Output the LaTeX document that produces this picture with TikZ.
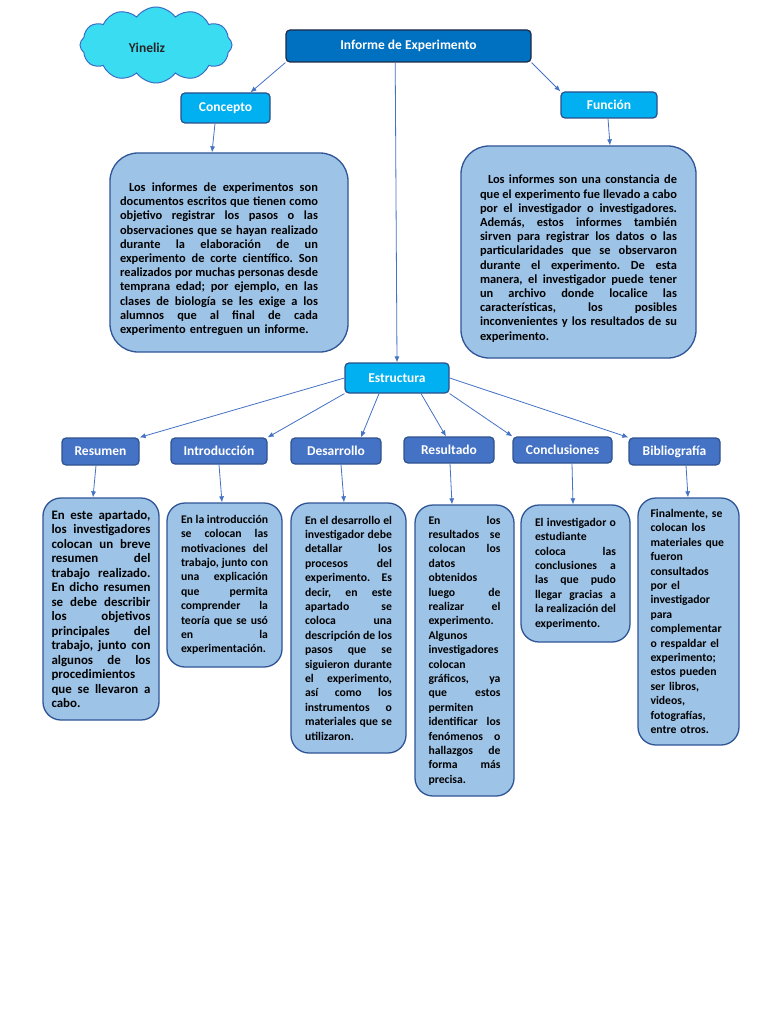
\documentclass[tikz,border=0pt]{standalone}
\usepackage{fontspec}
\setmainfont{Carlito}
\usetikzlibrary{shapes.symbols,calc,arrows.meta}
\definecolor{mainblue}{HTML}{0070C0}
\definecolor{mainframe}{HTML}{1C2A48}
\definecolor{cyanfill}{HTML}{00B0F0}
\definecolor{cyanframe}{HTML}{2A4E8A}
\definecolor{subfill}{HTML}{4472C4}
\definecolor{subframe}{HTML}{2F528F}
\definecolor{txtfill}{HTML}{9DC3E6}
\definecolor{txtframe}{HTML}{2F5597}
\definecolor{arrowblue}{HTML}{4472C4}
\definecolor{cloudfill}{HTML}{3ADCF2}
\definecolor{cloudframe}{HTML}{3A6EC4}
\def\jw{100pt}
\newcommand\jl[1]{\makebox[\jw][s]{\spaceskip=0.226em plus 1fil\relax #1}\\}
\begin{document}
\frenchspacing
\begin{tikzpicture}[x=1pt,y=-1pt,
  arr/.style={draw=arrowblue, line width=0.8pt, -{Latex[length=6pt,width=5pt]}},
  head/.style={text=white, inner sep=0pt, rounded corners=4pt, line width=1.2pt,
     font=\bfseries\fontsize{13.5}{16}\selectfont},
  mainbox/.style={head, draw=mainframe, fill=mainblue},
  cyanbox/.style={head, draw=cyanframe, fill=cyanfill},
  subbox/.style={head, draw=subframe, fill=subfill},
  txtbox/.style={draw=txtframe, fill=txtfill, line width=1.3pt, inner sep=0pt,
     align=left, text=black, rounded corners=18pt,
     font=\bfseries\frenchspacing\fontsize{11.7}{14.4}\selectfont},
  bigtxt/.style={txtbox, rounded corners=28pt, font=\bfseries\frenchspacing\fontsize{12.4}{14.2}\selectfont}
]
\fill[white] (0,0) rectangle (768,1024);
\path[use as bounding box] (0,0) rectangle (768,1024);

% cloud
\node[cloud, cloud puffs=12, cloud puff arc=110, cloud ignores aspect,
  minimum width=152pt, minimum height=76pt, draw=cloudframe, fill=cloudfill,
  line width=1pt] (cloud) at (156,45) {};
\node[font=\bfseries\fontsize{13.5}{16}\selectfont, text=black!85] (name) at (147,48) {Yineliz};

% headings
\node[mainbox, minimum width=245pt, minimum height=32pt] (inf) at (408.5,46) {Informe de Experimento};
\node[cyanbox, minimum width=89pt, minimum height=30pt] (con) at (225.5,108) {Concepto};
\node[cyanbox, minimum width=96pt, minimum height=26pt] (fun) at (609,105) {Función};
\node[cyanbox, minimum width=104pt, minimum height=30pt] (est) at (397,378) {Estructura};

\node[subbox, minimum width=77pt, minimum height=27pt] (res) at (100.5,451.5) {Resumen};
\node[subbox, minimum width=96pt, minimum height=26pt] (int) at (219,451) {Introducción};
\node[subbox, minimum width=90pt, minimum height=26pt] (des) at (336,451) {Desarrollo};
\node[subbox, minimum width=90pt, minimum height=26pt] (rel) at (449,450) {Resultado};
\node[subbox, minimum width=99pt, minimum height=26pt] (cnc) at (562.5,450) {Conclusiones};
\node[subbox, minimum width=91pt, minimum height=27pt] (bib) at (674.5,451.5) {Bibliografía};

% big text boxes
\node[bigtxt, minimum width=238pt, minimum height=199pt, text width=218pt] (cbox) at (229,252.5) {%
\def\jw{198pt}%
\jl{\rule{0pt}{22pt}\hspace*{9pt}Los informes de experimentos son}
\jl{documentos escritos que tienen como}
\jl{objetivo registrar los pasos o las}
\jl{observaciones que se hayan realizado}
\jl{durante la elaboración de un}
\jl{experimento de corte científico. Son}
\jl{realizados por muchas personas desde}
\jl{temprana edad; por ejemplo, en las}
\jl{clases de biología se les exige a los}
\jl{alumnos que al final de cada}
experimento entreguen un informe.};

\node[bigtxt, minimum width=235pt, minimum height=212pt, text width=197pt] (fbox) at (578.5,252) {%
\def\jw{197pt}%
\jl{\rule{0pt}{22pt}\hspace*{8pt}Los informes son una constancia de}
\jl{que el experimento fue llevado a cabo}
\jl{por el investigador o investigadores.}
\jl{Además, estos informes también}
\jl{sirven para registrar los datos o las}
\jl{particularidades que se observaron}
\jl{durante el experimento. De esta}
\jl{manera, el investigador puede tener}
\jl{un archivo donde localice las}
\jl{características, los posibles}
\jl{inconvenientes y los resultados de su}
experimento.};

% small text boxes
\node[txtbox, minimum width=116pt, minimum height=222pt, text width=99pt,
  font=\bfseries\frenchspacing\fontsize{12.9}{14.5}\selectfont] (resb) at (101,609) {%
\def\jw{99pt}%
\jl{En este apartado,}
\jl{los investigadores}
\jl{colocan un breve}
\jl{resumen del}
\jl{trabajo realizado.}
\jl{En dicho resumen}
\jl{se debe describir}
\jl{los objetivos}
\jl{principales del}
\jl{trabajo, junto con}
\jl{algunos de los}
procedimientos\\
\jl{que se llevaron a}
cabo.};

\node[txtbox, minimum width=115pt, minimum height=164pt, text width=87pt] (intb) at (224.5,585) {%
\def\jw{87pt}%
\jl{En la introducción}
\jl{se colocan las}
\jl{motivaciones del}
\jl{trabajo, junto con}
\jl{una explicación}
\jl{que permita}
\jl{comprender la}
\jl{teoría que se usó}
\jl{en la}
experimentación.};

\node[txtbox, minimum width=115pt, minimum height=250pt, text width=87pt] (desb) at (348.5,628) {%
\def\jw{87pt}%
\jl{En el desarrollo el}
\jl{investigador debe}
\jl{detallar los}
\jl{procesos del}
\jl{experimento. Es}
\jl{decir, en este}
\jl{apartado se}
\jl{coloca una}
\jl{descripción de los}
\jl{pasos que se}
\jl{siguieron durante}
\jl{el experimento,}
\jl{así como los}
\jl{instrumentos o}
\jl{materiales que se}
utilizaron.};

\node[txtbox, minimum width=99pt, minimum height=291pt, text width=72pt] (relb) at (464.5,650.5) {%
\def\jw{72pt}%
\jl{En los}
\jl{resultados se}
\jl{colocan los}
datos\\
obtenidos\\
\jl{luego de}
\jl{realizar el}
experimento.\\
Algunos\\
investigadores\\
colocan\\
\jl{gráficos, ya}
\jl{que estos}
permiten\\
\jl{identificar los}
\jl{fenómenos o}
\jl{hallazgos de}
\jl{forma más}
precisa.};

\node[txtbox, minimum width=109pt, minimum height=137pt, text width=81pt] (cncb) at (575.5,573.5) {%
\def\jw{81pt}%
\jl{El investigador o}
estudiante\\
\jl{coloca las}
\jl{conclusiones a}
\jl{las que pudo}
\jl{llegar gracias a}
\jl{la realización del}
experimento.};

\node[txtbox, minimum width=101pt, minimum height=247pt, text width=76pt] (bibb) at (688.5,621.5) {%
Finalmente, se\\
colocan los\\
materiales que\\
fueron\\
consultados\\
por el\\
investigador\\
para\\
complementar\\
o respaldar el\\
experimento;\\
estos pueden\\
ser libros,\\
videos,\\
fotografías,\\
entre otros.};

% connectors
\draw[arr] (inf.south west) -- ([xshift=25pt]con.north);
\draw[arr] (inf.south east) -- (fun.north west);
\draw[arr] ($(inf.south west)!0.446!(inf.south east)$) -- (est.north);
\draw[arr] ([xshift=-10.5pt]con.south) -- ([xshift=-17pt]cbox.north);
\draw[arr] ([xshift=-1pt]fun.south) -- ([xshift=31.5pt]fbox.north);

\draw[arr] (est.west) -- (res.north east);
\draw[arr] (est.south west) -- (int.north east);
\draw[arr] ([xshift=-18pt]est.south) -- ([xshift=25pt]des.north);
\draw[arr] ([xshift=24pt]est.south) -- ([xshift=-3pt]rel.north);
\draw[arr] (est.south east) -- (cnc.north west);
\draw[arr] (est.east) -- (bib.north west);

\draw[arr] ([xshift=-4.5pt]res.south) -- ([xshift=-8pt]resb.north);
\draw[arr] (int.south) -- ([xshift=-2.5pt]intb.north);
\draw[arr] ([xshift=5pt]des.south) -- ([xshift=-4.5pt]desb.north);
\draw[arr] ([xshift=1pt]rel.south) -- ([xshift=-12.5pt]relb.north);
\draw[arr] ([xshift=9.5pt]cnc.south) -- ([xshift=-2.5pt]cncb.north);
\draw[arr] ([xshift=11.5pt]bib.south) -- ([xshift=-0.5pt]bibb.north);
\end{tikzpicture}
\end{document}
